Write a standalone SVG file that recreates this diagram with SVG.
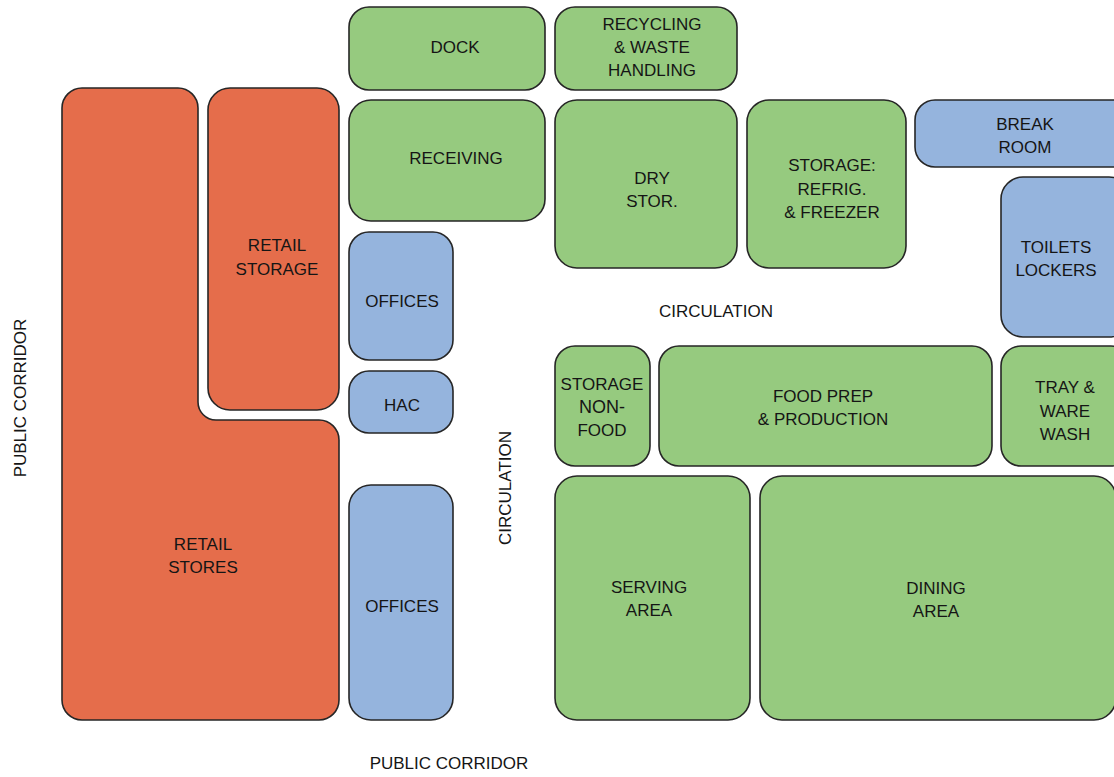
<svg xmlns="http://www.w3.org/2000/svg" width="1114" height="777" viewBox="0 0 1114 777">
<style>
.o{fill:#E56D4B;stroke:#262626;stroke-width:1.6}
.g{fill:#96CA7F;stroke:#262626;stroke-width:1.6}
.b{fill:#95B4DD;stroke:#262626;stroke-width:1.6}
text{font-family:"Liberation Sans",Arial,sans-serif;font-size:17px;fill:#151515;text-anchor:middle}
</style>
<rect width="1114" height="777" fill="#fff"/>
<g id="retail-stores">
<path class="o" d="M82,88 H178 A20,20 0 0 1 198,108 V402 A18,18 0 0 0 216,420 H319 A20,20 0 0 1 339,440 V700 A20,20 0 0 1 319,720 H82 A20,20 0 0 1 62,700 V108 A20,20 0 0 1 82,88 Z"/>
<text x="203" y="550">RETAIL</text><text x="203" y="573">STORES</text>
</g>
<g id="retail-storage">
<rect class="o" x="208" y="88" width="131" height="322" rx="22"/>
<text x="277" y="251">RETAIL</text><text x="277" y="275">STORAGE</text>
</g>
<g id="dock">
<rect class="g" x="349" y="7" width="196" height="83" rx="20"/>
<text x="455" y="53">DOCK</text>
</g>
<g id="recycling">
<rect class="g" x="555" y="7" width="182" height="83" rx="20"/>
<text x="652" y="30">RECYCLING</text><text x="652" y="53">&amp; WASTE</text><text x="652" y="76">HANDLING</text>
</g>
<g id="receiving">
<rect class="g" x="349" y="100" width="196" height="121" rx="22"/>
<text x="456" y="164">RECEIVING</text>
</g>
<g id="dry-stor">
<rect class="g" x="555" y="100" width="182" height="168" rx="22"/>
<text x="652" y="184">DRY</text><text x="652" y="207">STOR.</text>
</g>
<g id="storage-refrig">
<rect class="g" x="747" y="100" width="159" height="168" rx="22"/>
<text x="832" y="171">STORAGE:</text><text x="832" y="195">REFRIG.</text><text x="832" y="218">&amp; FREEZER</text>
</g>
<g id="break-room">
<rect class="b" x="915" y="100" width="220" height="67" rx="20"/>
<text x="1025" y="130">BREAK</text><text x="1025" y="153">ROOM</text>
</g>
<g id="toilets">
<rect class="b" x="1001" y="177" width="130" height="160" rx="22"/>
<text x="1056" y="253">TOILETS</text><text x="1056" y="276">LOCKERS</text>
</g>
<g id="offices-1">
<rect class="b" x="349" y="232" width="104" height="128" rx="20"/>
<text x="402" y="307">OFFICES</text>
</g>
<g id="hac">
<rect class="b" x="349" y="371" width="104" height="62" rx="20"/>
<text x="402" y="411">HAC</text>
</g>
<g id="offices-2">
<rect class="b" x="349" y="485" width="104" height="235" rx="22"/>
<text x="402" y="612">OFFICES</text>
</g>
<g id="storage-nonfood">
<rect class="g" x="555" y="346" width="95" height="120" rx="20"/>
<text x="602" y="390">STORAGE</text><text x="602" y="413" style="font-size:18px">NON-</text><text x="602" y="436">FOOD</text>
</g>
<g id="food-prep">
<rect class="g" x="659" y="346" width="333" height="120" rx="20"/>
<text x="823" y="402">FOOD PREP</text><text x="823" y="425">&amp; PRODUCTION</text>
</g>
<g id="tray-ware">
<rect class="g" x="1001" y="346" width="130" height="120" rx="20"/>
<text x="1065" y="393">TRAY &amp;</text><text x="1065" y="417">WARE</text><text x="1065" y="440">WASH</text>
</g>
<g id="serving">
<rect class="g" x="555" y="476" width="195" height="244" rx="22"/>
<text x="649" y="593">SERVING</text><text x="649" y="616">AREA</text>
</g>
<g id="dining">
<rect class="g" x="760" y="476" width="356" height="244" rx="22"/>
<text x="936" y="594">DINING</text><text x="936" y="617">AREA</text>
</g>
<g id="labels">
<text x="716" y="317">CIRCULATION</text>
<text x="449" y="769">PUBLIC CORRIDOR</text>
<text transform="translate(26,398) rotate(-90)">PUBLIC CORRIDOR</text>
<text transform="translate(511,488) rotate(-90)">CIRCULATION</text>
</g>
<g id="connectors"></g>
</svg>
